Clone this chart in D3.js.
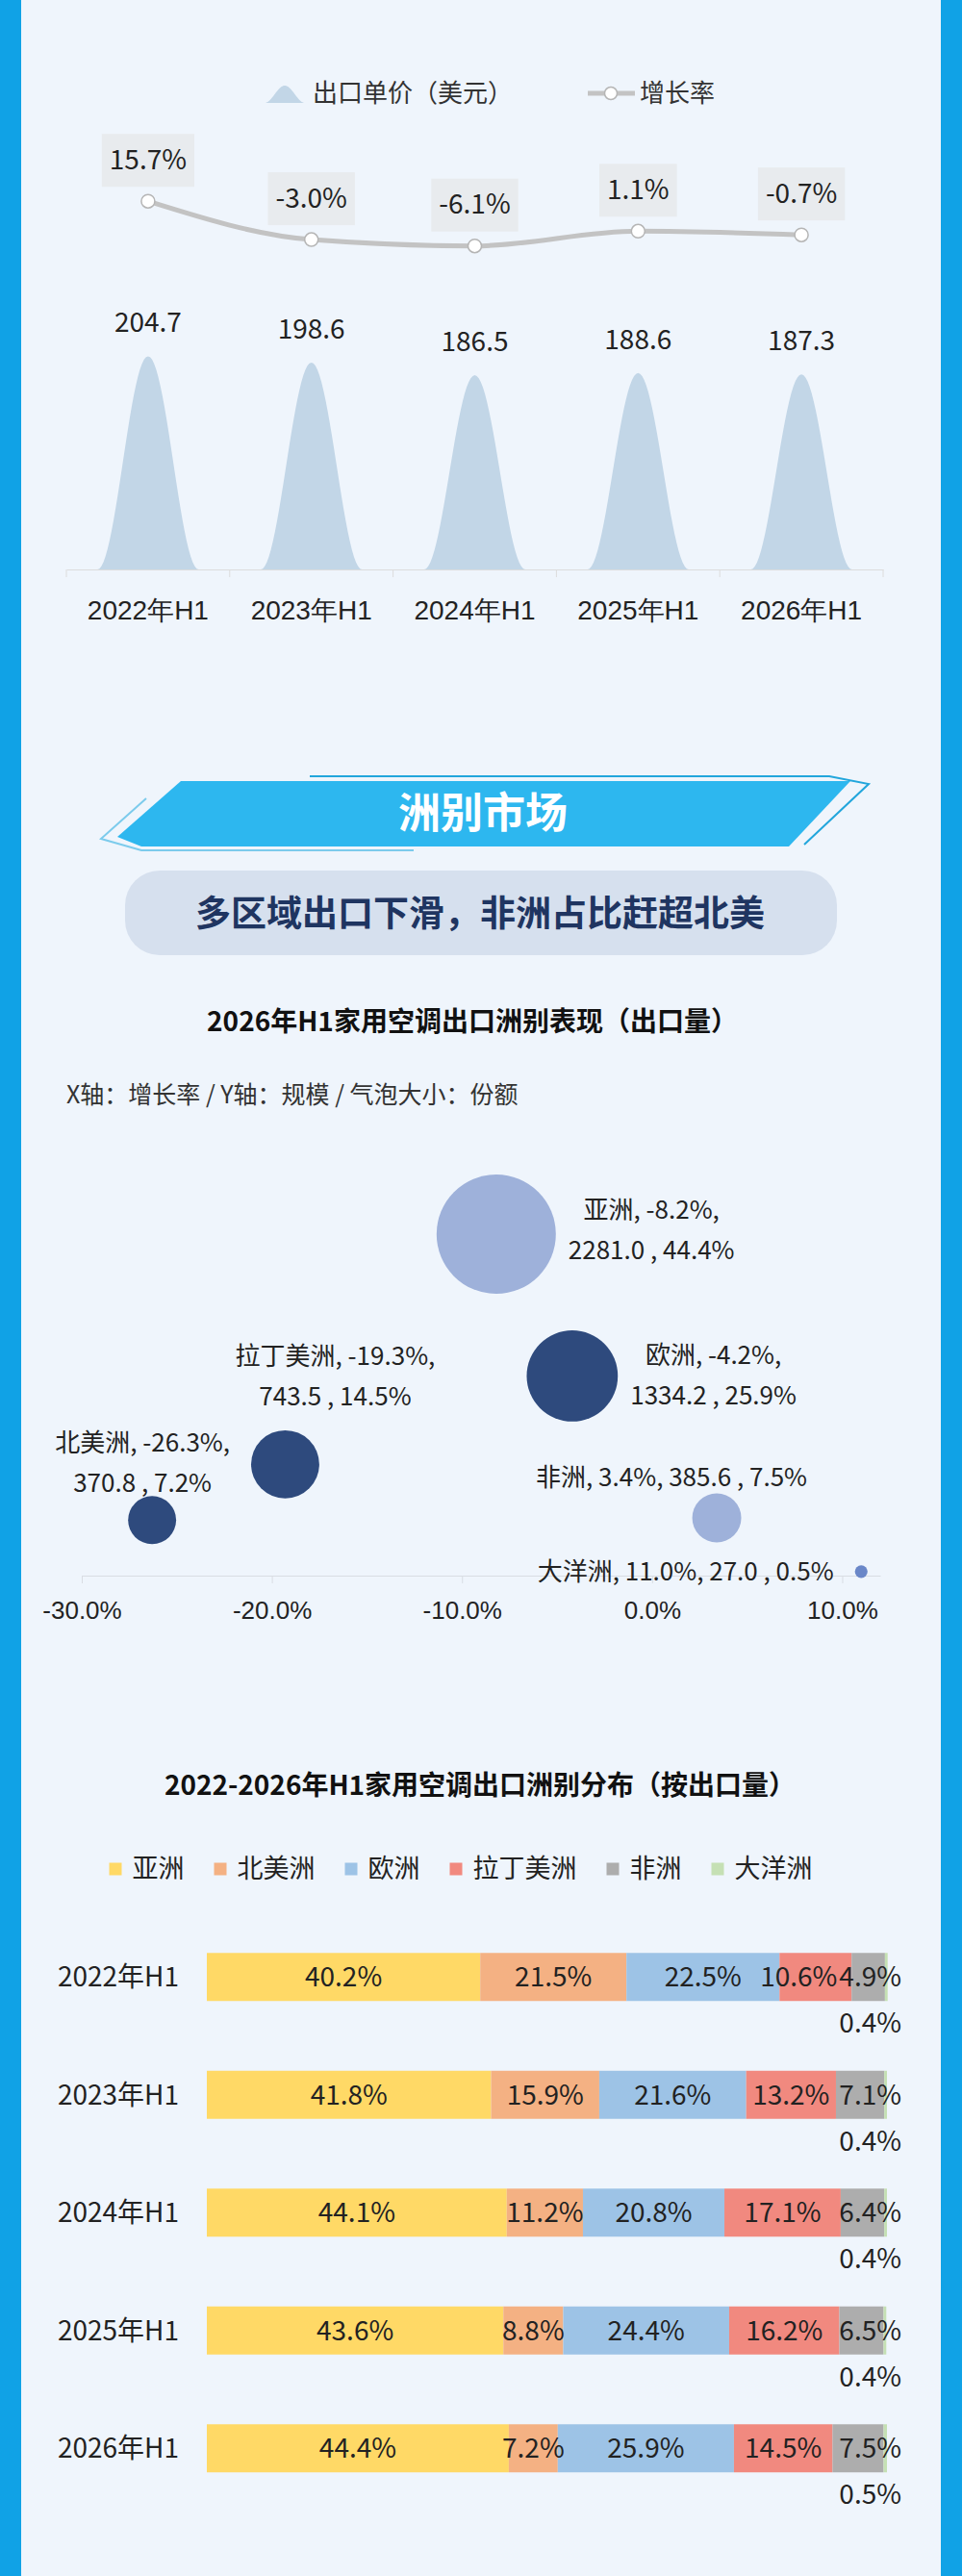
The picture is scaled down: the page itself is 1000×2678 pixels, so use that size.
<!doctype html>
<html>
<head>
<meta charset="utf-8">
<script src="https://cdn.jsdelivr.net/npm/d3@7"></script>
<style>
  body, html { margin: 0; background: #eff5fc; }
  svg { display: block; font-family: "Noto Sans CJK SC", "Noto Sans", sans-serif; }
</style>
</head>
<body>
<svg width="1000" height="2678"></svg>
<script>
// --- chart 1: export unit price & growth ---
var periods = ["2022年H1", "2023年H1", "2024年H1", "2025年H1", "2026年H1"];
var unitPrice = [204.7, 198.6, 186.5, 188.6, 187.3];
var priceGrowth = [15.7, -3.0, -6.1, 1.1, -0.7];

// --- chart 2: 2026H1 by continent (bubble) ---
var regions = ["亚洲", "欧洲", "拉丁美洲", "北美洲", "非洲", "大洋洲"];
var regionGrowth = [-8.2, -4.2, -19.3, -26.3, 3.4, 11.0];
var regionVolume = [2281.0, 1334.2, 743.5, 370.8, 385.6, 27.0];
var regionShare = [44.4, 25.9, 14.5, 7.2, 7.5, 0.5];
var growthTicks = [-30, -20, -10, 0, 10];

// --- chart 3: share by continent 2022-2026 ---
var continents = ["亚洲", "北美洲", "欧洲", "拉丁美洲", "非洲", "大洋洲"];
var shareAsia = [40.2, 41.8, 44.1, 43.6, 44.4];
var shareNorthAm = [21.5, 15.9, 11.2, 8.8, 7.2];
var shareEurope = [22.5, 21.6, 20.8, 24.4, 25.9];
var shareLatAm = [10.6, 13.2, 17.1, 16.2, 14.5];
var shareAfrica = [4.9, 7.1, 6.4, 6.5, 7.5];
var shareOceania = [0.4, 0.4, 0.4, 0.4, 0.5];

var svg = d3.select("svg");
var ink = "#222";

// page frame
svg.append("rect").attr("width", 1000).attr("height", 2678).attr("fill", "#eff5fc");
svg.append("rect").attr("x", 0).attr("width", 22).attr("height", 2678).attr("fill", "#10a2e6");
svg.append("rect").attr("x", 978).attr("width", 22).attr("height", 2678).attr("fill", "#10a2e6");

// ================= chart 1 =================
var x1 = d3.scaleBand().domain(periods).range([69, 918]);
var yPrice = d3.scaleLinear().domain([0, 230]).range([592, 343]);
var yGrowth = d3.scaleLinear().domain([-10, 20]).range([264, 200]);
var mid1 = function(p) { return x1(p) + x1.bandwidth() / 2; };
var halfW = x1.bandwidth() * 0.31;
var bellU = d3.range(-1, 1.0001, 0.04);

function bellPath(cx, base, top, hw) {
  return d3.area()
    .x(function(u) { return cx + u * hw; })
    .y0(base)
    .y1(function(u) { return base - (base - top) * (1 + Math.cos(Math.PI * u)) / 2; })(bellU);
}

// legend
svg.append("path").attr("d", bellPath(296, 107, 89, 21)).attr("fill", "#c2d6e7");
svg.append("text").attr("x", 325).attr("y", 97).attr("dy", "0.35em")
  .attr("font-size", 26).attr("fill", "#333").text("出口单价（美元）");
svg.append("line").attr("x1", 611).attr("x2", 660).attr("y1", 97).attr("y2", 97)
  .attr("stroke", "#c3c3c3").attr("stroke-width", 5);
svg.append("circle").attr("cx", 635).attr("cy", 97).attr("r", 6.5)
  .attr("fill", "#fff").attr("stroke", "#b5b5b5").attr("stroke-width", 1.5);
svg.append("text").attr("x", 665).attr("y", 97).attr("dy", "0.35em")
  .attr("font-size", 26).attr("fill", "#333").text("增长率");

// mountains
var g1 = svg.append("g");
periods.forEach(function(p, i) {
  g1.append("path")
    .attr("d", bellPath(mid1(p), yPrice(0), yPrice(unitPrice[i]), halfW))
    .attr("fill", "#c2d6e7");
  g1.append("text").attr("x", mid1(p)).attr("y", yPrice(unitPrice[i]) - 35).attr("dy", "0.35em")
    .attr("text-anchor", "middle").attr("font-size", 28).attr("fill", ink)
    .text(unitPrice[i].toFixed(1));
});

// x axis
var ax1 = svg.append("g").attr("transform", "translate(0," + yPrice(0) + ")")
  .call(d3.axisBottom(x1).tickSize(0).tickSizeOuter(0));
ax1.select(".domain").attr("stroke", "#dcdcdc");
ax1.selectAll("text").attr("y", 42).attr("dy", "0.35em").attr("font-size", 28).attr("fill", ink);
periods.concat(["end"]).forEach(function(p) {
  var xx = p === "end" ? x1.range()[1] : x1(p);
  ax1.append("line").attr("x1", xx).attr("x2", xx).attr("y1", 0).attr("y2", 8).attr("stroke", "#dcdcdc");
});

// growth line
var growthLine = d3.line()
  .x(function(d, i) { return mid1(periods[i]); })
  .y(function(d) { return yGrowth(d); })
  .curve(d3.curveMonotoneX);
svg.append("path").datum(priceGrowth).attr("d", growthLine)
  .attr("fill", "none").attr("stroke", "#c3c3c3").attr("stroke-width", 5);
priceGrowth.forEach(function(v, i) {
  var px = mid1(periods[i]), py = yGrowth(v);
  svg.append("circle").attr("cx", px).attr("cy", py).attr("r", 7)
    .attr("fill", "#fff").attr("stroke", "#b5b5b5").attr("stroke-width", 1.5);
  var box = svg.append("rect").attr("y", py - 43 - 27).attr("height", 55).attr("fill", "#e8ebee");
  var t = svg.append("text").attr("x", px).attr("y", py - 43).attr("dy", "0.35em")
    .attr("text-anchor", "middle").attr("font-size", 28).attr("fill", ink)
    .text(v.toFixed(1) + "%");
  var tw = t.node().getComputedTextLength() + 16;
  box.attr("x", px - tw / 2).attr("width", tw);
});

// ================= section banner =================
svg.append("polygon")
  .attr("points", [[188, 812], [884, 812], [820, 880], [147, 880], [122, 870]].join(" "))
  .attr("fill", "#2db7ef");
svg.append("polyline")
  .attr("points", [[322, 807], [862, 807], [903, 815], [836, 878]].join(" "))
  .attr("fill", "none").attr("stroke", "#22a6dc").attr("stroke-width", 2);
svg.append("polyline")
  .attr("points", [[152, 830], [105, 872], [147, 884], [430, 884]].join(" "))
  .attr("fill", "none").attr("stroke", "#7ccbec").attr("stroke-width", 2);
svg.append("text").attr("x", 502).attr("y", 846).attr("dy", "0.35em")
  .attr("text-anchor", "middle").attr("font-size", 44).attr("font-weight", "bold")
  .attr("fill", "#fff").text("洲别市场");

svg.append("rect").attr("x", 130).attr("y", 905).attr("width", 740).attr("height", 88).attr("rx", 36)
  .attr("fill", "#d6e0ee");
svg.append("text").attr("x", 499).attr("y", 950).attr("dy", "0.35em")
  .attr("text-anchor", "middle").attr("font-size", 37).attr("font-weight", "bold")
  .attr("fill", "#1f3561").text("多区域出口下滑，非洲占比赶超北美");

// ================= chart 2: bubbles =================
svg.append("text").attr("x", 491).attr("y", 1062).attr("dy", "0.35em")
  .attr("text-anchor", "middle").attr("font-size", 28).attr("font-weight", "bold")
  .attr("fill", "#111").text("2026年H1家用空调出口洲别表现（出口量）");
svg.append("text").attr("x", 69).attr("y", 1138).attr("dy", "0.35em")
  .attr("font-size", 25).attr("fill", "#333").text("X轴：增长率 / Y轴：规模 / 气泡大小：份额");

var xB = d3.scaleLinear().domain([-30, 12]).range([85, 915]);
var yB = d3.scaleLinear().domain([0, 2500]).range([1638, 1249]);
var rB = d3.scaleSqrt().domain([0, 44.4]).range([0, 62]);

var bubbleColor = { "亚洲": "#9eb1da", "欧洲": "#2e4a7d", "拉丁美洲": "#2e4a7d",
  "北美洲": "#2e4a7d", "非洲": "#9eb1da", "大洋洲": "#6a87c8" };
// label placement (echarts-like)
var bubbleLabel = {
  "亚洲": { pos: "right", split: true, dx: 0, dy: -4 },
  "欧洲": { pos: "right", split: true, dx: 0, dy: 0 },
  "拉丁美洲": { pos: "top", split: true, dx: 52, dy: -15 },
  "北美洲": { pos: "top", split: true, dx: -10, dy: 7 },
  "非洲": { pos: "top", split: false, dx: -47, dy: 3 },
  "大洋洲": { pos: "left", split: false, dx: 0, dy: 0 }
};

var axB = svg.append("g").attr("transform", "translate(0," + yB(0) + ")")
  .call(d3.axisBottom(xB).tickValues(growthTicks).tickSizeInner(8).tickSizeOuter(0)
    .tickFormat(function(d) { return d.toFixed(1) + "%"; }));
axB.select(".domain").attr("stroke", "#d9dde3");
axB.selectAll(".tick line").attr("stroke", "#d9dde3");
axB.selectAll("text").attr("y", 36).attr("dy", "0.35em").attr("font-size", 26).attr("fill", ink);

var gB = svg.append("g");
regions.forEach(function(name, i) {
  var cx = xB(regionGrowth[i]), cy = yB(regionVolume[i]), r = rB(regionShare[i]);
  gB.append("circle").attr("cx", cx).attr("cy", cy).attr("r", r).attr("fill", bubbleColor[name]);
});

var lineH = 42;
regions.forEach(function(name, i) {
  var cx = xB(regionGrowth[i]), cy = yB(regionVolume[i]), r = rB(regionShare[i]);
  var L = bubbleLabel[name];
  var a = name + ", " + regionGrowth[i].toFixed(1) + "%,";
  var b = regionVolume[i].toFixed(1) + " , " + regionShare[i].toFixed(1) + "%";
  var lines = L.split ? [a, b] : [a + " " + b];
  var texts = lines.map(function(t) {
    return gB.append("text").attr("font-size", 26).attr("fill", ink).attr("dy", "0.35em").text(t);
  });
  var widths = texts.map(function(t) { return t.node().getComputedTextLength(); });
  var maxW = d3.max(widths);
  var centerX, firstY;
  if (L.pos === "right") {
    centerX = cx + r + 13 + maxW / 2;
    firstY = cy - (lines.length - 1) * lineH / 2;
  } else if (L.pos === "top") {
    centerX = cx;
    firstY = cy - r - 20 - (lines.length - 1) * lineH;
  } else {
    centerX = cx - r - 22 - maxW / 2;
    firstY = cy - (lines.length - 1) * lineH / 2;
  }
  texts.forEach(function(t, k) {
    t.attr("text-anchor", "middle").attr("x", centerX + L.dx).attr("y", firstY + k * lineH + L.dy);
  });
});

// ================= chart 3: stacked bars =================
svg.append("text").attr("x", 499).attr("y", 1856).attr("dy", "0.35em")
  .attr("text-anchor", "middle").attr("font-size", 28).attr("font-weight", "bold")
  .attr("fill", "#111").text("2022-2026年H1家用空调出口洲别分布（按出口量）");

var shareColor = d3.scaleOrdinal().domain(continents)
  .range(["#ffd966", "#f4b183", "#9dc3e6", "#f1897f", "#adadad", "#c5e0b4"]);

// legend
var leg = svg.append("g");
var lx = 0;
continents.forEach(function(c) {
  var it = leg.append("g").attr("transform", "translate(" + lx + ",0)");
  it.append("rect").attr("x", 0).attr("y", 1943 - 6.5).attr("width", 13).attr("height", 13)
    .attr("fill", shareColor(c));
  var t = it.append("text").attr("x", 24).attr("y", 1943).attr("dy", "0.35em")
    .attr("font-size", 27).attr("fill", ink).text(c);
  lx += 24 + t.node().getComputedTextLength() + 31;
});
var legW = lx - 31;
leg.attr("transform", "translate(" + (479 - legW / 2) + ",0)");

var shareRows = periods.map(function(p, i) {
  return { period: p, "亚洲": shareAsia[i], "北美洲": shareNorthAm[i], "欧洲": shareEurope[i],
    "拉丁美洲": shareLatAm[i], "非洲": shareAfrica[i], "大洋洲": shareOceania[i] };
});
var stacked = d3.stack().keys(continents)(shareRows);

var xS = d3.scaleLinear().domain([0, 100]).range([215, 922]);
var yS = d3.scaleBand().domain(periods).range([1994, 2606.5]).paddingInner(0.592).paddingOuter(0.296);
var labelEnd = xS.range()[1] + 15;

var gS = svg.append("g");
stacked.forEach(function(s) {
  gS.selectAll(null).data(s).enter().append("rect")
    .attr("x", function(d) { return xS(d[0]); })
    .attr("y", function(d) { return yS(d.data.period); })
    .attr("width", function(d) { return xS(d[1]) - xS(d[0]); })
    .attr("height", yS.bandwidth())
    .attr("fill", shareColor(s.key));
});

// segment labels; the two thin tail segments are pinned to the bar end
periods.forEach(function(p, row) {
  var cy = yS(p) + yS.bandwidth() / 2;
  var inRow = [];
  stacked.forEach(function(s) {
    var d = s[row];
    var key = s.key;
    var t = gS.append("text").attr("dy", "0.35em").attr("font-size", 28).attr("fill", ink)
      .text(d.data[key].toFixed(1) + "%");
    var w = t.node().getComputedTextLength();
    if (key === "大洋洲") {
      t.attr("text-anchor", "end").attr("x", labelEnd).attr("y", cy + 48);
      return;
    }
    var left = key === "非洲" ? labelEnd - w : (xS(d[0]) + xS(d[1])) / 2 - w / 2;
    inRow.push({ t: t, left: left, w: w });
    t.attr("y", cy);
  });
  // push overlapping labels leftwards
  for (var k = inRow.length - 2; k >= 0; k--) {
    var over = inRow[k].left + inRow[k].w + 2 - inRow[k + 1].left;
    if (over > 0) inRow[k].left -= over;
  }
  inRow.forEach(function(o) { o.t.attr("x", o.left); });
});

periods.forEach(function(p) {
  gS.append("text").attr("x", 186).attr("y", yS(p) + yS.bandwidth() / 2).attr("dy", "0.35em")
    .attr("text-anchor", "end").attr("font-size", 28).attr("fill", ink).text(p);
});
</script>
</body>
</html>
